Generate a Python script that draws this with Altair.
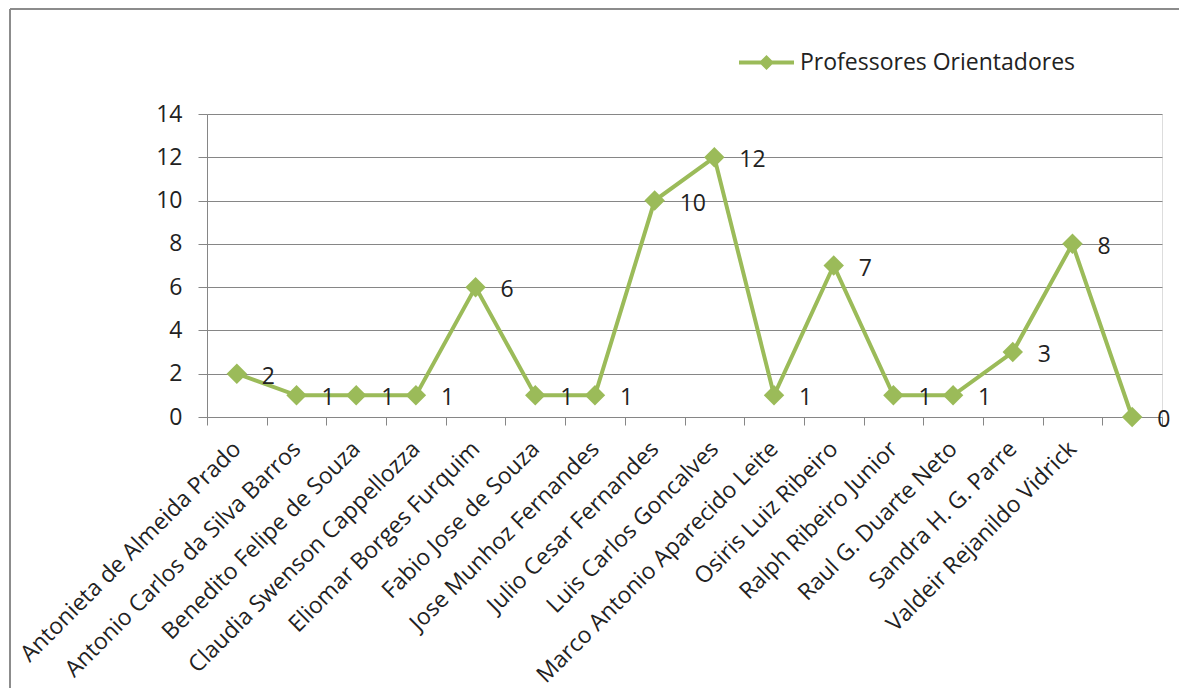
import altair as alt
import pandas as pd

names = [
    "Antonieta de Almeida Prado",
    "Antonio Carlos da Silva Barros",
    "Benedito Felipe de Souza",
    "Claudia Swenson Cappellozza",
    "Eliomar Borges Furquim",
    "Fabio Jose de Souza",
    "Jose Munhoz Fernandes",
    "Julio Cesar Fernandes",
    "Luis Carlos Goncalves",
    "Marco Antonio Aparecido Leite",
    "Osiris Luiz Ribeiro",
    "Ralph Ribeiro Junior",
    "Raul G. Duarte Neto",
    "Sandra H. G. Parre",
    "Valdeir Rejanildo Vidrick",
    " ",
]
values = [2, 1, 1, 1, 6, 1, 1, 10, 12, 1, 7, 1, 1, 3, 8, 0]
series_name = "Professores Orientadores"
y_ticks = [0, 2, 4, 6, 8, 10, 12, 14]

GREEN = "#9BBB59"
GRAY = "#868686"
FONT = "Open Sans"
FS = 23

df = pd.DataFrame({"nome": names, "valor": values, "serie": [series_name] * len(names)})

x_enc = alt.X(
    "nome:N",
    sort=names,
    scale=alt.Scale(paddingInner=0, paddingOuter=0),
    axis=alt.Axis(
        title=None,
        labelAngle=-45,
        labelAlign="right",
        labelBaseline="middle",
        labelFontSize=FS,
        labelFont=FONT,
        labelColor="#222222",
        labelPadding=20,
        labelLimit=500,
        labelOverlap=False,
        tickBand="extent",
        tickSize=8,
        tickColor=GRAY,
        domainColor=GRAY,
        grid=False,
    ),
)
y_enc = alt.Y(
    "valor:Q",
    scale=alt.Scale(domain=[0, 14], nice=False),
    axis=alt.Axis(
        title=None,
        values=y_ticks,
        labelFontSize=FS,
        labelFont=FONT,
        labelColor="#222222",
        labelPadding=16,
        tickSize=9,
        tickColor=GRAY,
        domainColor=GRAY,
        gridColor=GRAY,
        gridWidth=1,
    ),
)

line = alt.Chart(df).mark_line(
    strokeWidth=4,
    point=alt.OverlayMarkDef(shape="diamond", size=420, filled=True, color=GREEN, opacity=1),
).encode(
    x=x_enc,
    y=y_enc,
    color=alt.Color(
        "serie:N",
        scale=alt.Scale(range=[GREEN]),
        legend=alt.Legend(
            title=None,
            orient="none",
            legendX=530,
            legendY=-81,
            symbolType="M-1,0H1M-0.17,0L0,-0.17L0.17,0L0,0.17Z",
            symbolSize=3025,
            symbolStrokeWidth=4,
            symbolFillColor=GREEN,
            symbolStrokeColor=GREEN,
            labelFontSize=FS,
            labelFont=FONT,
            labelColor="#222222",
            labelOffset=4,
            labelLimit=500,
        ),
    ),
)

labels = alt.Chart(df).mark_text(
    align="left", baseline="middle", dx=25, dy=3, fontSize=FS, font=FONT, color="#222222"
).encode(
    x=alt.X("nome:N", sort=names),
    y="valor:Q",
    text="valor:Q",
)

border_df = pd.DataFrame({"a": [0]})
border_left = alt.Chart(border_df).mark_rule(color="#8C8C8C", strokeWidth=2, clip=False).encode(
    x=alt.value(-197), y=alt.value(-105), y2=alt.value(574)
)
border_top = alt.Chart(border_df).mark_rule(color="#8C8C8C", strokeWidth=2, clip=False).encode(
    x=alt.value(-197), x2=alt.value(972), y=alt.value(-105)
)

chart = (
    alt.layer(border_left, border_top, line, labels)
    .properties(
        width=955,
        height=303,
        autosize=alt.AutoSizeParams(type="none"),
        padding={"left": 199, "top": 106, "right": 17, "bottom": 271},
    )
    .configure_view(stroke="transparent")
    .configure(background="white")
)

chart.save("out.html", embed_options={"renderer": "svg", "actions": False})
